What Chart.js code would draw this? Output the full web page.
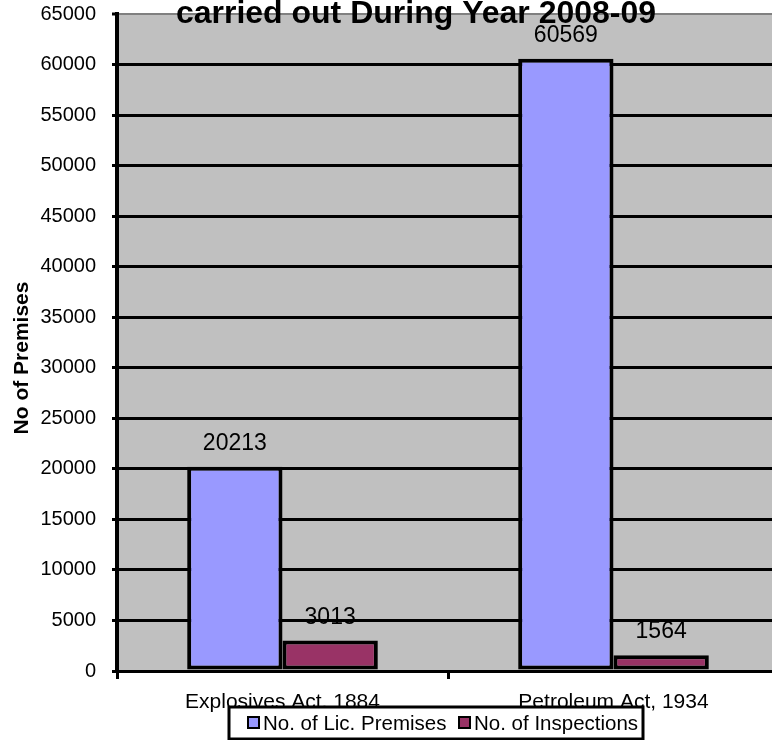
<!DOCTYPE html>
<html>
<head>
<meta charset="utf-8">
<script src="https://cdn.jsdelivr.net/npm/chart.js@4.4.1/dist/chart.umd.min.js"></script>
<style>
  html, body { margin: 0; padding: 0; background: #ffffff; overflow: hidden; }
  #wrap { width: 772px; height: 740px; overflow: hidden; }
  canvas { display: block; }
</style>
</head>
<body>
<div id="wrap"><canvas id="c" width="790" height="740"></canvas></div>
<script>
const categories = ["Explosives Act, 1884", "Petroleum Act, 1934"];
const seriesNames = ["No. of Lic. Premises", "No. of Inspections"];
const licPremises = [20213, 60569];
const inspections = [3013, 1564];
const yTicks = [0, 5000, 10000, 15000, 20000, 25000, 30000, 35000, 40000, 45000, 50000, 55000, 60000, 65000];
const titleText = "carried out During Year 2008-09";
const yAxisTitle = "No of Premises";

const FONT = "'Liberation Sans', Arial, sans-serif";
const BLUE = "#9999FF";
const RED = "#993366";

const decor = {
  id: 'decor',
  beforeDraw(chart) {
    const a = chart.chartArea, ctx = chart.ctx;
    ctx.save();
    ctx.fillStyle = '#C0C0C0';
    ctx.fillRect(a.left, a.top, a.right - a.left, a.bottom - a.top);
    ctx.restore();
  },
  afterDatasetsDraw(chart) {
    const ctx = chart.ctx;
    ctx.save();
    ctx.font = "23px " + FONT;
    ctx.fillStyle = '#000';
    ctx.textAlign = 'center';
    ctx.textBaseline = 'alphabetic';
    chart.data.datasets.forEach((ds, i) => {
      chart.getDatasetMeta(i).data.forEach((bar, j) => {
        ctx.fillText(String(ds.data[j]), bar.x, bar.y - 17);
      });
    });
    ctx.restore();
  },
  afterDraw(chart) {
    const ctx = chart.ctx;
    ctx.save();
    ctx.translate(22, 358);
    ctx.rotate(-Math.PI / 2);
    ctx.font = "bold 21px " + FONT;
    ctx.fillStyle = '#000';
    ctx.textAlign = 'center';
    ctx.textBaseline = 'middle';
    ctx.fillText(yAxisTitle, 0, 0);
    ctx.restore();

    ctx.save();
    ctx.font = "bold 32px " + FONT;
    ctx.fillStyle = '#000';
    ctx.textAlign = 'center';
    ctx.textBaseline = 'alphabetic';
    ctx.fillText(titleText, 416, 23);
    ctx.restore();

    ctx.save();
    const lx = 229, ly = 707, lw = 414, lh = 32;
    ctx.fillStyle = '#fff';
    ctx.fillRect(lx, ly, lw, lh);
    ctx.lineWidth = 3;
    ctx.strokeStyle = '#000';
    ctx.strokeRect(lx, ly, lw, lh);
    ctx.font = "20.5px " + FONT;
    ctx.textBaseline = 'alphabetic';
    ctx.textAlign = 'left';
    const colors = [BLUE, RED];
    const xs = [248, 459];
    seriesNames.forEach((n, i) => {
      ctx.fillStyle = colors[i];
      ctx.fillRect(xs[i], 717, 11, 11);
      ctx.lineWidth = 2;
      ctx.strokeStyle = '#000';
      ctx.strokeRect(xs[i], 717, 11, 11);
      ctx.fillStyle = '#000';
      ctx.fillText(n, xs[i] + 15, 730);
    });
    ctx.restore();
  }
};

new Chart(document.getElementById('c'), {
  type: 'bar',
  data: {
    labels: categories,
    datasets: [
      { label: seriesNames[0], data: licPremises, backgroundColor: BLUE, borderColor: '#000', borderWidth: 4, borderSkipped: false },
      { label: seriesNames[1], data: inspections, backgroundColor: RED, borderColor: '#000', borderWidth: 4, borderSkipped: false }
    ]
  },
  options: {
    responsive: false,
    animation: false,
    devicePixelRatio: 1,
    layout: { padding: { top: 14, right: 11, left: 0, bottom: 0 } },
    datasets: { bar: { categoryPercentage: 0.576, barPercentage: 1.0 } },
    plugins: { legend: { display: false }, title: { display: false }, tooltip: { enabled: false } },
    scales: {
      x: {
        grid: { display: true, drawOnChartArea: false, offset: true, tickLength: 8, tickColor: '#000', tickWidth: 3 },
        border: { display: true, color: '#000', width: 3 },
        ticks: { color: '#000', font: { family: FONT, size: 21 }, padding: 11, maxRotation: 0 },
        afterFit(s) { s.height = 69; s.paddingLeft = 0; s.paddingRight = 0; }
      },
      y: {
        min: 0, max: 65000,
        afterBuildTicks(s) { s.ticks = yTicks.map(v => ({ value: v })); },
        grid: {
          color: ctx => (ctx.tick && ctx.tick.value === 65000) ? '#808080' : '#000',
          lineWidth: ctx => (ctx.tick && ctx.tick.value === 65000) ? 2 : 3,
          tickLength: 5, tickColor: '#000', tickWidth: 3
        },
        border: { display: true, color: '#000', width: 4 },
        ticks: { color: '#000', font: { family: FONT, size: 20 }, padding: 16, callback: v => String(v) },
        afterFit(s) { s.width = 117; s.paddingTop = 0; s.paddingBottom = 0; }
      }
    }
  },
  plugins: [decor]
});
</script>
</body>
</html>
